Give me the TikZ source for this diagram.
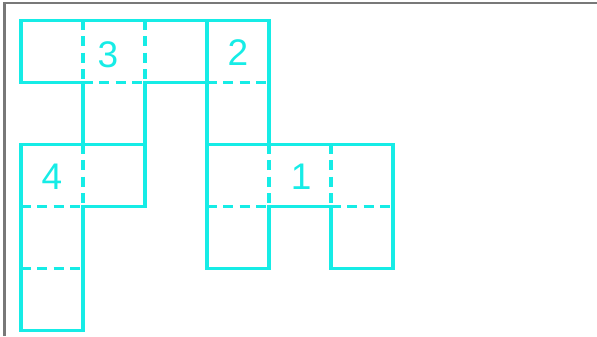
\documentclass[tikz,border=0pt]{standalone}
\usepackage{fontspec}
\setmainfont{Liberation Sans}
\definecolor{tilecyan}{RGB}{22,236,230}
\definecolor{framegray}{RGB}{120,120,120}

\begin{document}
\begin{tikzpicture}[x=1cm,y=1cm,line join=miter,
  edge/.style={draw=tilecyan,line width=1.4pt},
  fold/.style={draw=tilecyan,line width=1.4pt,dash pattern=on 4.5pt off 3pt},
  num/.style={text=tilecyan,font=\fontsize{17}{20}\selectfont,inner sep=0pt}]
\useasboundingbox (-0.339,0.323) rectangle (9.290,-5.097);
\draw[framegray,line width=1pt] (-0.266,-5.097) -- (-0.266,0.279) -- (9.290,0.279);
% piece 3
\draw[edge] (0,0) -- (3,0) -- (3,-1) -- (2,-1) -- (2,-2) -- (1,-2) -- (1,-1) -- (0,-1) -- cycle;
\draw[fold] (1,0) -- (1,-1) (2,0) -- (2,-1) (1,-1) -- (2,-1);
% piece 2
\draw[edge] (3,0) -- (4,0) -- (4,-2) -- (3,-2) -- cycle;
\draw[fold] (3,-1) -- (4,-1);
% piece 1
\draw[edge] (3,-2) -- (6,-2) -- (6,-4) -- (5,-4) -- (5,-3) -- (4,-3) -- (4,-4) -- (3,-4) -- cycle;
\draw[fold] (4,-2) -- (4,-3) (5,-2) -- (5,-3) (3,-3) -- (4,-3) (5,-3) -- (6,-3);
% piece 4
\draw[edge] (0,-2) -- (2,-2) -- (2,-3) -- (1,-3) -- (1,-5) -- (0,-5) -- cycle;
\draw[fold] (1,-2) -- (1,-3) (0,-3) -- (1,-3) (0,-4) -- (1,-4);
% labels
\node[num] (lab3) at (1.40,-0.56) {3};
\node[num] (lab2) at (3.50,-0.53) {2};
\node[num] (lab4) at (0.50,-2.53) {4};
\node[num] (lab1) at (4.52,-2.53) {1};
\end{tikzpicture}
\end{document}
